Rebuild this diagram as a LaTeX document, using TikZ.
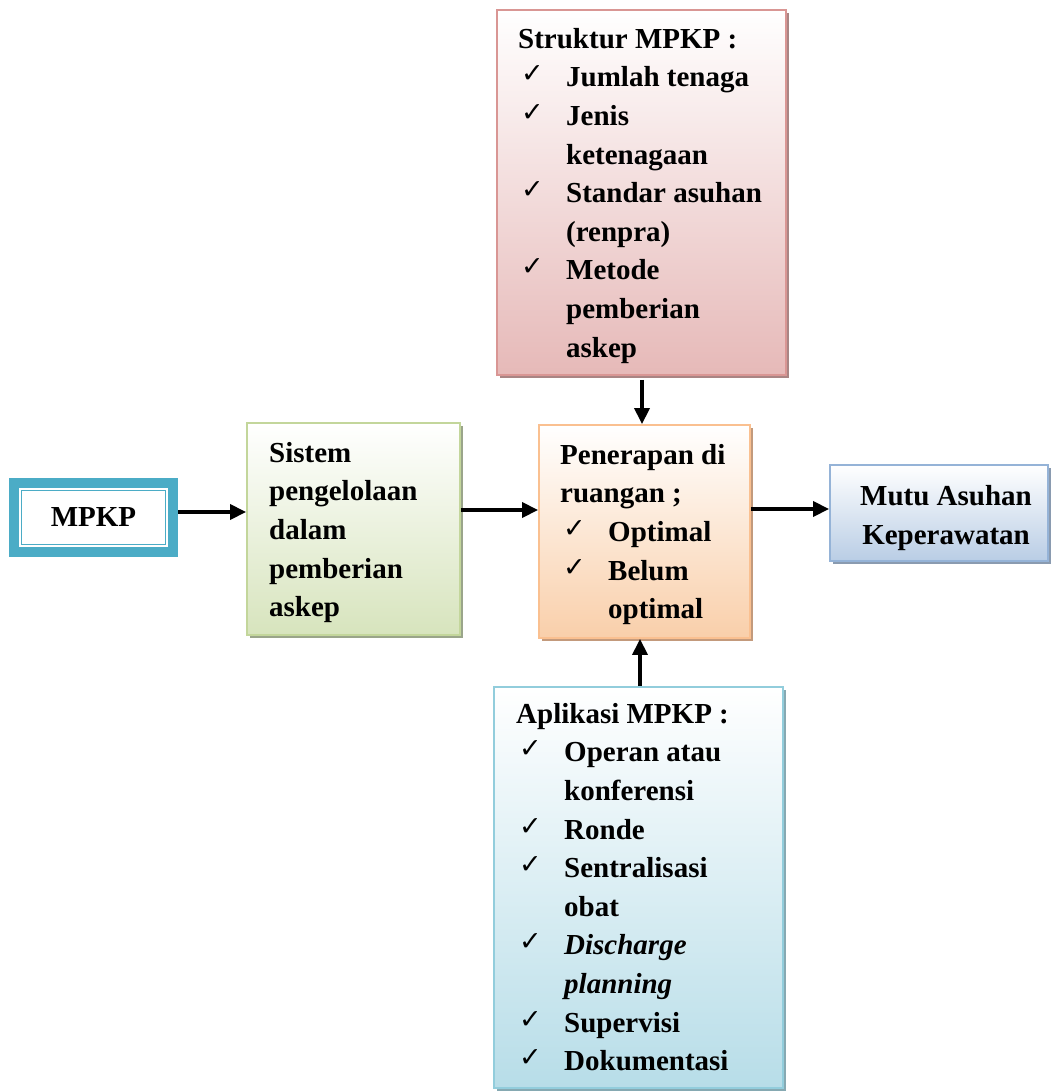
\documentclass[tikz,border=0pt]{standalone}
\usepackage{fontspec}
\setmainfont{Liberation Serif}
\newfontfamily\ckfont{DejaVu Sans}
\usetikzlibrary{arrows.meta,shadows}

% colours
\definecolor{pkbd}{HTML}{D99694}
\definecolor{pkfill}{HTML}{E6B9B8}
\definecolor{pksh}{HTML}{A98584}
\definecolor{grbd}{HTML}{C3D69B}
\definecolor{grfill}{HTML}{D7E4BD}
\definecolor{grsh}{HTML}{9AA58A}
\definecolor{orbd}{HTML}{FAC090}
\definecolor{orfill}{HTML}{F9CFAA}
\definecolor{orsh}{HTML}{C39A7C}
\definecolor{blbd}{HTML}{95B3D7}
\definecolor{blfill}{HTML}{B9CDE5}
\definecolor{blsh}{HTML}{8A9BB0}
\definecolor{cybd}{HTML}{92CDDC}
\definecolor{cyfill}{HTML}{B7DDE8}
\definecolor{cysh}{HTML}{86A9B2}
\definecolor{mpteal}{HTML}{4BACC6}

% list helpers: check mark column and continuation indent
\newcommand\ck{\makebox[48pt][l]{\hspace{3pt}\raisebox{4pt}{\ckfont\fontsize{27}{27}\selectfont ✓}}}
\newcommand\cont{\hspace*{48pt}}
\newcommand\fl{\vrule height 30pt width 0pt\relax}

\begin{document}
\begin{tikzpicture}[x=1pt,y=-1pt,
  box/.style={rectangle, line width=1.8pt, inner sep=0pt},
  shd/.style={drop shadow={shadow xshift=3pt, shadow yshift=-3pt, fill=#1, opacity=1}},
  txt/.style={inner sep=0pt, align=left, font=\fontsize{29}{38.6}\selectfont\bfseries},
  arr/.style={line width=3.4pt, -{Triangle[length=16pt,width=15pt]}}]
\useasboundingbox (0,0) rectangle (1051,1091);

% boxes
\node[box, shd=pksh, draw=pkbd, top color=white, middle color=pkfill!55, bottom color=pkfill,
      minimum width=289pt, minimum height=365pt] (str) at (641.5,192.5) {};
\node[box, shd=grsh, draw=grbd, top color=white, middle color=grfill!55, bottom color=grfill,
      minimum width=213pt, minimum height=212pt] (sis) at (353.5,529) {};
\node[box, shd=orsh, draw=orbd, top color=white, middle color=orfill!55, bottom color=orfill,
      minimum width=211pt, minimum height=213pt] (pen) at (644.5,531.5) {};
\node[box, shd=blsh, draw=blbd, top color=white, middle color=blfill!55, bottom color=blfill,
      minimum width=218pt, minimum height=96pt] (mutu) at (939,513) {};
\node[box, shd=cysh, draw=cybd, top color=white, middle color=cyfill!45, bottom color=cyfill,
      minimum width=289pt, minimum height=401pt] (apl) at (638.5,887.5) {};

% MPKP frame: thick teal band, white gap, thin teal rule
\node[rectangle, fill=mpteal, inner sep=0pt, minimum width=169pt, minimum height=79pt] (mpkp) at (93.5,517.5) {};
\fill[white] ([shift={(10,10)}]mpkp.north west) rectangle ([shift={(-10,-10)}]mpkp.south east);
\draw[mpteal, line width=1.6pt] ([shift={(12.8,12.8)}]mpkp.north west) rectangle ([shift={(-12.8,-12.8)}]mpkp.south east);
\node[txt] (mpkpT) at (mpkp.center) {MPKP};

% texts
\node[txt, anchor=north west] (strT) at (518,18) {\fl Struktur MPKP :\\
  \ck Jumlah tenaga\\
  \ck Jenis\\
  \cont ketenagaan\\
  \ck Standar asuhan\\
  \cont (renpra)\\
  \ck Metode\\
  \cont pemberian\\
  \cont askep};

\node[txt, anchor=north west] (sisT) at (269,432) {\fl Sistem\\
  pengelolaan\\
  dalam\\
  pemberian\\
  askep};

\node[txt, anchor=north west] (penT) at (560,434) {\fl Penerapan di\\
  ruangan ;\\
  \ck Optimal\\
  \ck Belum\\
  \cont optimal};

\node[txt, align=center] (mutuT) at ([shift={(7,5)}]mutu.center) {Mutu Asuhan\\Keperawatan};

\node[txt, anchor=north west] (aplT) at (516,693) {\fl Aplikasi MPKP :\\
  \ck Operan atau\\
  \cont konferensi\\
  \ck Ronde\\
  \ck Sentralisasi\\
  \cont obat\\
  \ck\textit{Discharge}\\
  \cont\textit{planning}\\
  \ck Supervisi\\
  \ck Dokumentasi};

% connectors
\coordinate (ya) at (0,512);
\coordinate (yb) at (0,510);
\coordinate (yc) at (0,509);
\coordinate (xa) at (642,0);
\coordinate (xb) at (640,0);
\draw[arr] (mpkp.east |- ya) -- (sis.west |- ya);
\draw[arr] (sis.east |- yb) -- (pen.west |- yb);
\draw[arr] (pen.east |- yc) -- (mutu.west |- yc);
\draw[arr] ([yshift=-4pt]str.south -| xa) -- (pen.north -| xa);
\draw[arr] (apl.north -| xb) -- (pen.south -| xb);
\end{tikzpicture}
\end{document}
